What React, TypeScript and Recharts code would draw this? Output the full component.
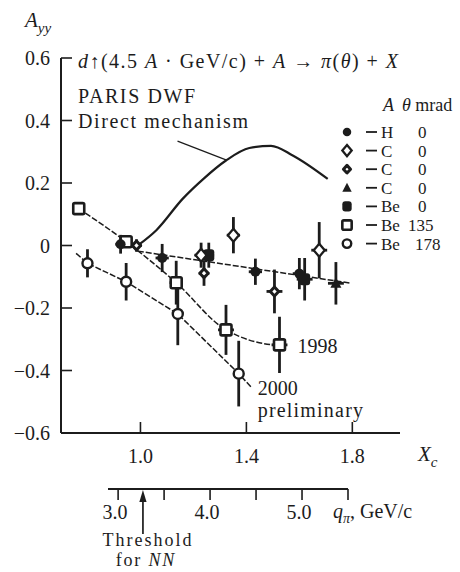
import React from 'react';
import { ComposedChart, Scatter, Line, XAxis, YAxis, ErrorBar, ReferenceLine, ReferenceDot } from 'recharts';

const FONT = '"Liberation Serif", "DejaVu Serif", serif';
const INK = '#1c1c1c';

// axes
const xcTicks = [1.0, 1.4, 1.8];
const ayyTicks = [-0.6, -0.4, -0.2, 0, 0.2, 0.4, 0.6];
const qTicks = [3.0, 3.5, 4.0, 4.5, 5.0, 5.5];
const qLabelled = [3.0, 4.0, 5.0];
const nnThreshold = 3.27;

// A_yy vs X_c, ey / ex = error bars
const hydrogen0 = [
  { x: 0.925, y: 0.004, ey: 0.03, ex: 0.02 },
  { x: 1.082, y: -0.04, ey: 0.045, ex: 0.025 },
  { x: 1.434, y: -0.084, ey: 0.042, ex: 0.025 },
  { x: 1.6, y: -0.09, ey: 0.05, ex: 0.025 },
];
const carbon0a = [
  { x: 1.229, y: -0.031, ey: 0.04, ex: 0.025 },
  { x: 1.351, y: 0.033, ey: 0.058, ex: 0.025 },
  { x: 1.675, y: -0.015, ey: 0.09, ex: 0.03 },
];
const carbon0b = [
  { x: 0.985, y: 0.0, ey: 0.02, ex: 0.02 },
  { x: 1.24, y: -0.089, ey: 0.04, ex: 0.02 },
  { x: 1.506, y: -0.147, ey: 0.07, ex: 0.03 },
];
const carbon0c = [{ x: 1.738, y: -0.121, ey: 0.068, ex: 0.03 }];
const beryl0 = [
  { x: 1.258, y: -0.031, ey: 0.04, ex: 0.02 },
  { x: 1.62, y: -0.108, ey: 0.068, ex: 0.03 },
];
const beryl135 = [
  { x: 0.767, y: 0.118, ey: 0.02, ex: 0.015 },
  { x: 0.946, y: 0.012, ey: 0.02, ex: 0.02 },
  { x: 1.135, y: -0.119, ey: 0.07, ex: 0.025 },
  { x: 1.323, y: -0.27, ey: 0.08, ex: 0.03 },
  { x: 1.525, y: -0.318, ey: 0.09, ex: 0.03 },
];
const beryl178 = [
  { x: 0.8, y: -0.057, ey: 0.045, ex: 0.02 },
  { x: 0.946, y: -0.116, ey: 0.06, ex: 0 },
  { x: 1.141, y: -0.219, ey: 0.1, ex: 0 },
  { x: 1.371, y: -0.41, ey: 0.105, ex: 0 },
];

// guide lines
const fitZeroAngle = [
  { x: 0.99, y: -0.018 },
  { x: 1.79, y: -0.12 },
];
const line1998 = [
  { x: 0.767, y: 0.118 },
  { x: 0.946, y: 0.012 },
  { x: 1.135, y: -0.119 },
  { x: 1.323, y: -0.27 },
  { x: 1.525, y: -0.318 },
  { x: 1.555, y: -0.318 },
];
const line2000 = [
  { x: 0.757, y: -0.025 },
  { x: 0.8, y: -0.057 },
  { x: 0.946, y: -0.116 },
  { x: 1.141, y: -0.219 },
  { x: 1.371, y: -0.41 },
  { x: 1.42, y: -0.455 },
];
// PARIS DWF, direct mechanism
const parisDwf = [
  { x: 0.99, y: 0.0 },
  { x: 1.06, y: 0.049 },
  { x: 1.16, y: 0.15 },
  { x: 1.24, y: 0.215 },
  { x: 1.323, y: 0.272 },
  { x: 1.411, y: 0.312 },
  { x: 1.493, y: 0.319 },
  { x: 1.575, y: 0.288 },
  { x: 1.707, y: 0.213 },
];

const legendRows = [
  { kind: 'dot', nucleus: 'H', angle: '0' },
  { kind: 'diamond', nucleus: 'C', angle: '0' },
  { kind: 'smallDiamond', nucleus: 'C', angle: '0' },
  { kind: 'triangle', nucleus: 'C', angle: '0' },
  { kind: 'roundSquare', nucleus: 'Be', angle: '0' },
  { kind: 'openSquare', nucleus: 'Be', angle: '135' },
  { kind: 'openCircle', nucleus: 'Be', angle: '178' },
];

function Marker({ kind, cx, cy, s = 1 }: { kind: string; cx: number; cy: number; s?: number }) {
  switch (kind) {
    case 'dot':
      return <circle cx={cx} cy={cy} r={5 * s} fill={INK} />;
    case 'diamond':
      return (
        <polygon
          points={`${cx},${cy - 6.5 * s} ${cx + 5.5 * s},${cy} ${cx},${cy + 6.5 * s} ${cx - 5.5 * s},${cy}`}
          fill="#fff" stroke={INK} strokeWidth={2.3}
        />
      );
    case 'smallDiamond':
      return (
        <polygon
          points={`${cx},${cy - 4.5 * s} ${cx + 4.2 * s},${cy} ${cx},${cy + 4.5 * s} ${cx - 4.2 * s},${cy}`}
          fill="#fff" stroke={INK} strokeWidth={3} strokeLinejoin="round"
        />
      );
    case 'triangle':
      return <polygon points={`${cx},${cy - 6 * s} ${cx + 5.5 * s},${cy + 4.5 * s} ${cx - 5.5 * s},${cy + 4.5 * s}`} fill={INK} />;
    case 'roundSquare':
      return <rect x={cx - 5.5 * s} y={cy - 6 * s} width={11 * s} height={12 * s} rx={3} fill={INK} />;
    case 'openSquare':
      return (
        <rect x={cx - 5.5 * s} y={cy - 5.5 * s} width={11 * s} height={11 * s} rx={1.5}
          fill="#fff" stroke={INK} strokeWidth={2.6} />
      );
    default:
      return <circle cx={cx} cy={cy} r={5 * s} fill="#fff" stroke={INK} strokeWidth={2.4} />;
  }
}

const shapeOf = (kind: string) => (p: any) => <Marker kind={kind} cx={p.cx} cy={p.cy} />;

function YTick({ x, y, payload }: any) {
  const v = payload.value;
  const txt = v === 0 ? '0' : (v < 0 ? '\u2212' : '') + Math.abs(v).toFixed(1);
  return (
    <g>
      <line x1={x} x2={x + 11} y1={y} y2={y} stroke={INK} strokeWidth={1.6} />
      <text x={x - 11} y={y + 7} textAnchor="end" fontFamily={FONT} fontSize={20} fill={INK}>{txt}</text>
    </g>
  );
}

function XcTick({ x, y, payload }: any) {
  return (
    <g>
      <line x1={x} x2={x} y1={y} y2={y - 11} stroke={INK} strokeWidth={1.6} />
      <text x={x} y={y + 30} textAnchor="middle" fontFamily={FONT} fontSize={20} fill={INK}>
        {payload.value.toFixed(1)}
      </text>
    </g>
  );
}

// q_pi axis ticks; the NN threshold arrow hangs from the same scale
function QTick({ x, y, payload }: any) {
  const v = payload.value;
  if (v === nnThreshold) {
    return (
      <g fontFamily={FONT} fontSize={18} fill={INK}>
        <line x1={x} x2={x} y1={y + 45} y2={y + 10} stroke={INK} strokeWidth={1.7} />
        <polygon points={`${x},${y + 1} ${x + 3.6},${y + 13} ${x - 3.6},${y + 13}`} fill={INK} />
        <text x={x + 5} y={y + 57} textAnchor="middle" letterSpacing={2}>Threshold</text>
        <text x={x + 3} y={y + 77} textAnchor="middle" letterSpacing={1.8}>
          for <tspan fontStyle="italic">NN</tspan>
        </text>
      </g>
    );
  }
  return (
    <g>
      <line x1={x} x2={x} y1={y} y2={y + 11} stroke={INK} strokeWidth={1.6} />
      {qLabelled.includes(v) && (
        <text x={x - 3} y={y + 30} textAnchor="middle" fontFamily={FONT} fontSize={20} fill={INK}>
          {v.toFixed(1)}
        </text>
      )}
    </g>
  );
}

const axisStyle = { stroke: INK, strokeWidth: 2 };
const errStyle = { stroke: INK, strokeWidth: 2.8 };

function series(data: any[], kind: string, name: string) {
  return (
    <Scatter key={name} name={name} data={data} dataKey="y" shape={shapeOf(kind)} isAnimationActive={false}>
      <ErrorBar dataKey="ey" direction="y" width={0} {...errStyle} />
      <ErrorBar dataKey="ex" direction="x" width={0} {...errStyle} />
    </Scatter>
  );
}

export default function App() {
  const last1998 = beryl135[beryl135.length - 1];
  const last2000 = line2000[line2000.length - 1];
  return (
    <div style={{ position: 'absolute', left: 0, top: 0, width: 460, height: 572, background: '#fff' }}>
      <div style={{ position: 'absolute', left: 0, top: 0 }}>
        <ComposedChart width={460} height={480} margin={{ top: 58, right: 60, bottom: 17, left: 21 }}>
          <XAxis
            dataKey="x" type="number" domain={[0.7, 1.98]} ticks={xcTicks} interval={0}
            height={30} tickSize={0} tickMargin={0} tickLine={false} axisLine={axisStyle} tick={<XcTick />}
          />
          <YAxis
            dataKey="y" type="number" domain={[-0.6, 0.6]} ticks={ayyTicks} interval={0}
            width={40} tickSize={0} tickMargin={0} tickLine={false} axisLine={axisStyle} tick={<YTick />}
          />
          <Line data={fitZeroAngle} dataKey="y" type="linear" stroke={INK} strokeWidth={1.5} strokeDasharray="6 2" dot={false} activeDot={false} isAnimationActive={false} />
          <Line data={line1998} dataKey="y" type="monotone" stroke={INK} strokeWidth={1.5} strokeDasharray="6 2" dot={false} activeDot={false} isAnimationActive={false} />
          <Line data={line2000} dataKey="y" type="linear" stroke={INK} strokeWidth={1.5} strokeDasharray="6 2" dot={false} activeDot={false} isAnimationActive={false} />
          <Line data={parisDwf} dataKey="y" type="monotone" stroke={INK} strokeWidth={2.2} dot={false} activeDot={false} isAnimationActive={false} />
          <ReferenceLine
            segment={[{ x: 1.14, y: 0.334 }, { x: 1.323, y: 0.274 }]}
            stroke={INK} strokeWidth={1.2} ifOverflow="visible"
          />
          {series(beryl178, 'openCircle', 'Be 178')}
          {series(beryl135, 'openSquare', 'Be 135')}
          {series(beryl0, 'roundSquare', 'Be 0')}
          {series(carbon0c, 'triangle', 'C 0 c')}
          {series(carbon0b, 'smallDiamond', 'C 0 b')}
          {series(carbon0a, 'diamond', 'C 0 a')}
          {series(hydrogen0, 'dot', 'H 0')}
          <ReferenceDot
            x={last1998.x} y={last1998.y} r={0} ifOverflow="visible"
            shape={(p: any) => (
              <text x={p.cx + 18} y={p.cy + 8} fontFamily={FONT} fontSize={20} fill={INK}>1998</text>
            )}
          />
          <ReferenceDot
            x={last2000.x} y={last2000.y} r={0} ifOverflow="visible"
            shape={(p: any) => (
              <g fontFamily={FONT} fontSize={20} fill={INK}>
                <text x={p.cx + 6} y={p.cy + 7}>2000</text>
                <text x={p.cx + 6} y={p.cy + 29} letterSpacing={1.2}>preliminary</text>
              </g>
            )}
          />
          <g fontFamily={FONT} fill={INK}>
            <text x={25} y={27} fontSize={21}>
              <tspan fontStyle="italic">A</tspan>
              <tspan fontStyle="italic" fontSize={15} dy={6}>yy</tspan>
            </text>
            <text x={78} y={68} fontSize={20} textLength={320} lengthAdjust="spacing">
              <tspan fontStyle="italic">d</tspan>{'\u2191(4.5 '}<tspan fontStyle="italic">A</tspan>
              {' \u00b7 GeV/c) + '}<tspan fontStyle="italic">A</tspan>{' \u2192 '}
              <tspan fontStyle="italic">{'\u03c0'}</tspan>(<tspan fontStyle="italic">{'\u03b8'}</tspan>){' + '}
              <tspan fontStyle="italic">X</tspan>
            </text>
            <text x={78} y={103} fontSize={20} letterSpacing={1.6}>PARIS DWF</text>
            <text x={78} y={128} fontSize={20} letterSpacing={1.6}>Direct mechanism</text>
            <text x={418} y={461} fontSize={21}>
              <tspan fontStyle="italic">X</tspan>
              <tspan fontStyle="italic" fontSize={15} dy={6}>c</tspan>
            </text>
            <text x={383} y={111} fontSize={18}>
              <tspan fontStyle="italic">A</tspan>
              <tspan dx={8} fontStyle="italic">{'\u03b8'}</tspan> mrad
            </text>
            {legendRows.map((r, i) => {
              const cy = 132 + i * 18.6;
              const ax = r.angle === '0' ? 418 : r.angle === '135' ? 408 : 415;
              return (
                <g key={i}>
                  <Marker kind={r.kind} cx={347} cy={cy} s={0.85} />
                  <line x1={366} x2={377} y1={cy} y2={cy} stroke={INK} strokeWidth={1.8} />
                  <text x={381} y={cy + 6} fontSize={17}>{r.nucleus}</text>
                  <text x={ax} y={cy + 6} fontSize={17}>{r.angle}</text>
                </g>
              );
            })}
          </g>
        </ComposedChart>
      </div>
      <div style={{ position: 'absolute', left: 0, top: 480 }}>
        <ComposedChart width={460} height={92} data={qTicks.map((q) => ({ q }))} margin={{ top: 0, right: 112, bottom: 0, left: 108 }}>
          <XAxis
            xAxisId="q" dataKey="q" type="number" orientation="top" height={9} domain={[2.89, 5.5]}
            ticks={[...qTicks, nnThreshold]} interval={0} tickSize={0} tickMargin={0} tickLine={false}
            axisLine={axisStyle} tick={<QTick />}
          />
          <text x={333} y={38} fontFamily={FONT} fontSize={20} fill={INK}>
            <tspan fontStyle="italic">q</tspan>
            <tspan fontStyle="italic" fontSize={14} dy={5}>{'\u03c0'}</tspan>
            <tspan dy={-5}>, GeV/c</tspan>
          </text>
        </ComposedChart>
      </div>
    </div>
  );
}
